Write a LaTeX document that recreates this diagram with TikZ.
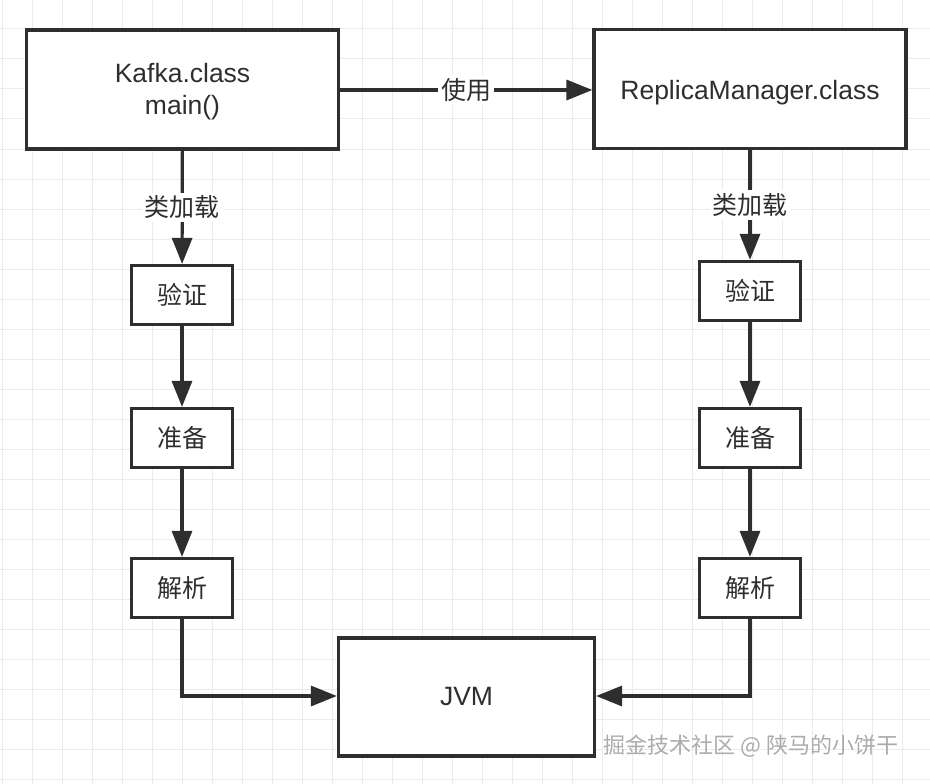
\documentclass[tikz,border=0pt]{standalone}
\usepackage{fontspec}
\setmainfont{Liberation Sans}
\newfontfamily\cjk{Noto Sans CJK SC}
\usetikzlibrary{arrows.meta,positioning}
\definecolor{ink}{HTML}{2E2E2E}
\definecolor{gridgray}{HTML}{EBEBEB}
\newcommand{\lowered}[2]{\raisebox{-#1}[\height][\depth]{#2}}
\tikzset{
  box/.style={draw=ink, line width=3.2pt, fill=white, text=ink, align=center, inner sep=0pt},
  bigbox/.style={box, minimum width=312pt, minimum height=119pt, font=\fontsize{26.5}{32}\selectfont},
  stepbox/.style={box, minimum width=101pt, minimum height=59pt, font=\cjk\fontsize{25}{30}\selectfont},
  flow/.style={draw=ink, line width=3.2pt, -{Triangle[length=26pt,width=20pt]}},
  lbl/.style={fill=white, text=ink, inner sep=3pt, font=\cjk\fontsize{25}{30}\selectfont}
}
\begin{document}
\begin{tikzpicture}[x=1pt, y=-1pt]
  \useasboundingbox (0,0) rectangle (930,784);
  \fill[white] (0,0) rectangle (930,784);
  \foreach \x in {2,32,...,932}{\draw[gridgray, line width=1pt] (\x,0) -- (\x,784);}
  \foreach \y in {29,59,...,779}{\draw[gridgray, line width=1pt] (0,\y) -- (930,\y);}

  \node[bigbox] (kafka) at (182.5,89.5) {\lowered{2pt}{Kafka.class}\\\lowered{2pt}{main()}};
  \node[bigbox] (replica) at (750,89) {\lowered{4pt}{ReplicaManager.class}};
  \node[box, minimum width=256pt, minimum height=118pt, font=\fontsize{26.5}{32}\selectfont] (jvm) at (466.5,697) {JVM};

  \node[stepbox] (verifyL) at (182,295) {验证};
  \node[stepbox] (prepL) at (182,438) {准备};
  \node[stepbox] (resolveL) at (182,588) {解析};
  \node[stepbox] (verifyR) at (750,291) {验证};
  \node[stepbox] (prepR) at (750,438) {准备};
  \node[stepbox] (resolveR) at (750,588) {解析};

  \draw[flow] (kafka.east |- 0,90) -- node[lbl] {使用} (replica.west |- 0,90);
  \draw[flow] (kafka) -- node[lbl] {类加载} (verifyL);
  \draw[flow] (replica) -- node[lbl] {类加载} (verifyR);
  \foreach \a/\b in {verifyL/prepL, prepL/resolveL, verifyR/prepR, prepR/resolveR}
    \draw[flow] (\a) -- (\b);
  \draw[flow] (resolveL) |- (jvm.west |- 0,696);
  \draw[flow] (resolveR) |- (jvm.east |- 0,696);

  \node[text=gray!65, font=\cjk\fontsize{22}{26}\selectfont, inner sep=0pt] (mark) at (751,746) {掘金技术社区 @ 陕马的小饼干};
\end{tikzpicture}
\end{document}
